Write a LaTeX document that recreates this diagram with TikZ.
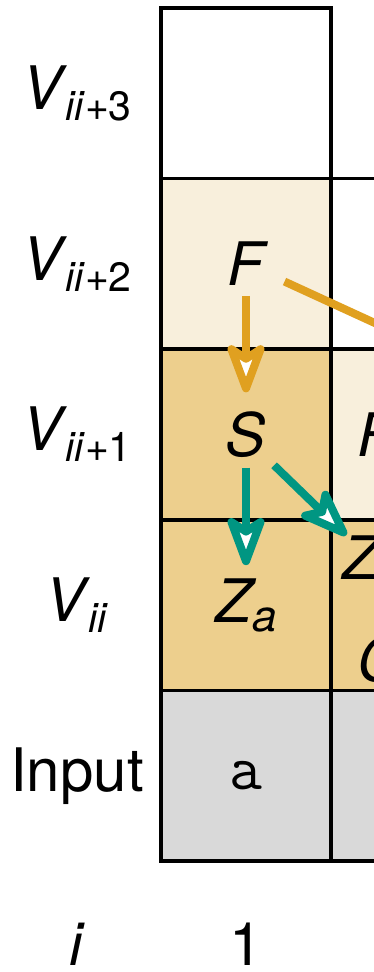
\documentclass[tikz,border=0pt]{standalone}
\usepackage{fontspec}
\setmainfont{TeX Gyre Heros}
\usepackage{xcolor}
\usepackage{tikz}
\usetikzlibrary{arrows.meta, positioning, calc}

\definecolor{lightsand}{HTML}{F8EFDC}
\definecolor{sand}{HTML}{EDCF8D}
\definecolor{inputgray}{HTML}{D9D9D9}
\definecolor{ochre}{HTML}{E0A020}
\definecolor{seateal}{HTML}{009682}

\newcommand{\Vlab}[1]{\textit{V}\kern-2pt\raisebox{-11pt}{\fontsize{41}{41}\selectfont\textit{ii}#1}}

\begin{document}
\begin{tikzpicture}[
    x=1pt, y=-1pt,
    node distance = 0pt and 0pt,
    cell/.style   = {rectangle, draw, line width=3.5pt,
                     minimum width=170pt, minimum height=170.6pt,
                     inner sep=0pt, outer sep=0pt},
    sym/.style    = {inner sep=0pt, font=\fontsize{60}{60}\selectfont\itshape},
    lab/.style    = {inner sep=0pt, font=\fontsize{60}{60}\selectfont},
    tip/.tip      = {Stealth[length=60pt, width=44pt, inset=14pt, fill=white, round]},
    arr/.style    = {line width=8pt, -tip},
    oarr/.style   = {arr, draw=ochre},
    tarr/.style   = {arr, draw=seateal}
]
  \useasboundingbox (0,0) rectangle (374,972);
  \clip (0,0) rectangle (374,972);

  % column 1
  \node[cell] (c1r3) at (246,93.3) {};
  \node[cell, fill=lightsand, below=of c1r3] (c1r2) {};
  \node[cell, fill=sand, below=of c1r2]      (c1r1) {};
  \node[cell, fill=sand, below=of c1r1]      (c1r0) {};
  \node[cell, fill=inputgray, below=of c1r0] (c1in) {};

  % column 2
  \node[cell, right=of c1r2]                 (c2r2) {};
  \node[cell, fill=lightsand, right=of c1r1] (c2r1) {};
  \node[cell, fill=sand, right=of c1r0]      (c2r0) {};
  \node[cell, fill=inputgray, right=of c1in] (c2in) {};

  % row labels
  \node[lab] (l3)  at ([xshift=-84pt]c1r3.west) {\Vlab{+3}};
  \node[lab] (l2)  at ([xshift=-84pt]c1r2.west) {\Vlab{+2}};
  \node[lab] (l1)  at ([xshift=-84pt]c1r1.west) {\Vlab{+1}};
  \node[lab] (l0)  at ([xshift=-84pt]c1r0.west) {\Vlab{}};
  \node[lab] (lin) at ([xshift=-84pt]c1in.west) {Input};
  \node[sym] (li)  at (76,944) {i};
  \node[lab] (i1)  at (c1in.center |- li) {1};

  % cell contents
  \node[sym] (f1) at (c1r2) {F};
  \node[sym] (s1) at (c1r1) {S};
  \node[sym] (z1) at (c1r0) {Z\raisebox{-9pt}{\fontsize{44}{44}\selectfont a}};
  \node[inner sep=0pt, font=\fontsize{64}{64}\selectfont\ttfamily] (a1) at (c1in) {a};
  \node[sym, anchor=west] (f2) at (357,435) {F};
  \node[sym, anchor=west] (z2) at (342,558) {Z};
  \node[sym, anchor=west] (c2) at (357,660) {C};

  \draw[oarr, shorten <=10pt, shorten >=19pt] (f1) -- (s1);
  \draw[tarr, shorten <=10pt, shorten >=13pt] (s1) -- (z1);
  \draw[tarr, shorten <=11pt, shorten >=1pt] (s1.south east) -- ([xshift=5pt]z2.north west);

  % link leaving the view
  \coordinate (far) at (560,408);
  \draw[ochre, line width=8pt, shorten <=22pt] (f1) -- (far);
\end{tikzpicture}
\end{document}
